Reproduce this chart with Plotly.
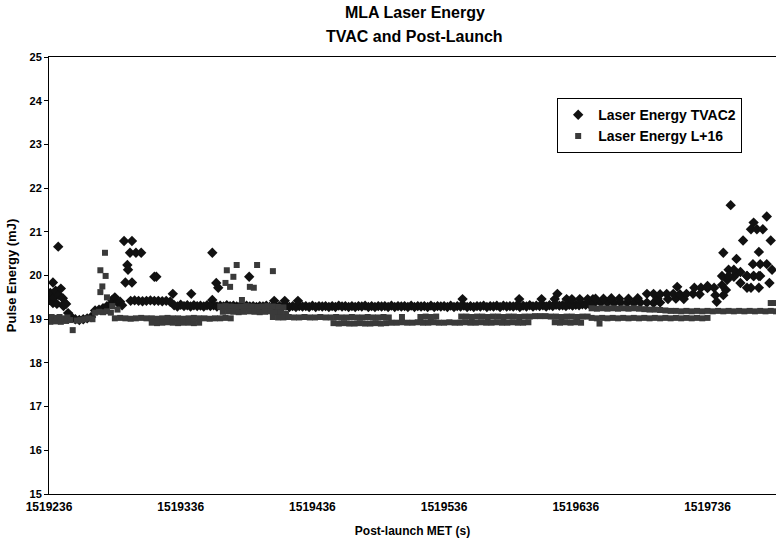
import plotly.graph_objects as go

MET0 = 1519236  # first MET shown on the axis (s)

# ---- tick labels ----
x_tick_vals = [1519236, 1519336, 1519436, 1519536, 1519636, 1519736]
x_tick_text = ["1519236", "1519336", "1519436", "1519536", "1519636", "1519736"]
y_tick_vals = [15, 16, 17, 18, 19, 20, 21, 22, 23, 24, 25]

# ---- Laser Energy TVAC2 : (seconds after MET0, pulse energy mJ) ----
tvac2_early = [(1, 19.60), (2, 19.45), (3, 19.84), (3, 19.37), (4, 19.50), (5, 19.65), (6, 19.35),
               (7, 20.66), (7.5, 19.55), (9, 19.70), (10.5, 19.48), (11, 19.30), (12, 19.37), (13, 19.35),
               (14.5, 19.14), (17, 19.05), (20, 19.00), (23, 18.98), (26, 19.00), (29, 19.02), (32, 19.05),
               (35, 19.20), (38, 19.22), (41, 19.25), (44, 19.30), (47, 19.35), (48, 19.44), (50, 19.50),
               (52, 19.38), (54, 19.40), (55.5, 19.32)]
tvac2_bursts = [(57, 20.79), (63, 20.79), (61.5, 20.52), (66, 20.52), (70, 20.52), (59.5, 20.24),
                (60, 20.13), (58, 19.84), (63, 19.84), (80, 19.97), (81.5, 19.97), (94, 19.58),
                (108, 19.58), (124, 20.52), (124, 19.44), (127, 19.83), (128.5, 19.72), (152, 19.97)]
tvac2_band_a = [(62, 19.42), (65, 19.43), (68, 19.42), (71, 19.41), (74, 19.42), (77, 19.43),
                (80, 19.42), (83, 19.42), (86, 19.41), (89, 19.42), (92, 19.40)]
tvac2_band_b = [(95, 19.32), (100, 19.33), (105, 19.32), (110, 19.32), (115, 19.31), (120, 19.32),
                (125, 19.32), (130, 19.31), (135, 19.32), (140, 19.31), (145, 19.30), (150, 19.31),
                (155, 19.30), (160, 19.30), (165, 19.31), (170, 19.30), (175, 19.30), (180, 19.31),
                (185, 19.30), (190, 19.30), (195, 19.30), (200, 19.31), (205, 19.30), (210, 19.30),
                (215, 19.30), (220, 19.31), (225, 19.30), (230, 19.30), (235, 19.30), (240, 19.31),
                (245, 19.30), (250, 19.30), (255, 19.30), (260, 19.31), (265, 19.30), (270, 19.30),
                (275, 19.31), (280, 19.30), (285, 19.30), (290, 19.31), (295, 19.30), (300, 19.30),
                (305, 19.31), (310, 19.30), (315, 19.31), (320, 19.30), (325, 19.30), (330, 19.31),
                (335, 19.30), (340, 19.31), (345, 19.31), (350, 19.30), (355, 19.31), (360, 19.31),
                (365, 19.32), (370, 19.31), (375, 19.32), (380, 19.32), (385, 19.33), (390, 19.32),
                (395, 19.33), (400, 19.33), (405, 19.34), (410, 19.35)]
tvac2_band_b2 = [(97.5, 19.29), (102.5, 19.30), (107.5, 19.29), (112.5, 19.30), (117.5, 19.29),
                 (122.5, 19.30), (127.5, 19.29), (132.5, 19.29), (137.5, 19.30), (142.5, 19.29),
                 (147.5, 19.28), (152.5, 19.29), (157.5, 19.28), (162.5, 19.29), (167.5, 19.28),
                 (172.5, 19.28), (177.5, 19.29), (182.5, 19.28), (187.5, 19.28), (192.5, 19.29),
                 (197.5, 19.28), (202.5, 19.28), (207.5, 19.29), (212.5, 19.28), (217.5, 19.28),
                 (222.5, 19.29), (227.5, 19.28), (232.5, 19.28), (237.5, 19.29), (242.5, 19.28),
                 (247.5, 19.28), (252.5, 19.29), (257.5, 19.28), (262.5, 19.28), (267.5, 19.29),
                 (272.5, 19.28), (277.5, 19.28), (282.5, 19.29), (287.5, 19.28), (292.5, 19.28),
                 (297.5, 19.29), (302.5, 19.28), (307.5, 19.28), (312.5, 19.29), (317.5, 19.28),
                 (322.5, 19.28), (327.5, 19.29), (332.5, 19.28), (337.5, 19.29), (342.5, 19.28),
                 (347.5, 19.29), (352.5, 19.29), (357.5, 19.28), (362.5, 19.29), (367.5, 19.29),
                 (372.5, 19.30), (377.5, 19.29), (382.5, 19.30), (387.5, 19.31), (392.5, 19.30),
                 (397.5, 19.31), (402.5, 19.32), (407.5, 19.33)]
tvac2_bumps = [(171, 19.42), (179, 19.42), (189, 19.42), (314, 19.46), (357, 19.46), (374, 19.46),
               (384, 19.46), (386, 19.58), (393, 19.46), (397, 19.46), (403, 19.46), (409, 19.46),
               (413, 19.46)]
tvac2_late = [(414, 19.37), (419, 19.38), (424, 19.38), (429, 19.37), (434, 19.38), (439, 19.38),
              (444, 19.37), (449, 19.38), (454, 19.38), (459, 19.37), (464, 19.38),
              (415, 19.47), (421, 19.47), (427, 19.48), (433, 19.47), (440, 19.47), (447, 19.48),
              (462, 19.47), (470, 19.46), (476, 19.47), (482, 19.46),
              (454, 19.58), (459, 19.58), (464, 19.57), (469, 19.58), (474, 19.58), (479, 19.57),
              (484, 19.58), (489, 19.58), (494, 19.57),
              (477, 19.74), (490, 19.72), (495, 19.72), (500, 19.71), (505, 19.72)]
tvac2_cluster = [(500, 19.76), (506, 19.55), (512, 19.55), (507, 19.40), (514, 19.67), (511, 19.78),
                 (515, 19.90), (520, 19.97), (522, 20.05), (525, 20.08), (530, 19.99), (535, 19.99),
                 (540, 19.99), (525, 19.83), (530, 19.72), (533, 19.72), (539, 19.72), (547, 19.83),
                 (517.6, 21.61), (545, 21.35), (535, 21.21), (533, 21.06), (537.5, 21.06), (542, 21.06),
                 (527, 20.80), (548, 20.80), (512, 20.52), (539, 20.54), (522, 20.38), (534.5, 20.26),
                 (540, 20.26), (545, 20.26), (511, 19.99), (516, 20.13), (520, 20.13), (516, 19.99),
                 (530, 19.99), (535, 19.99), (539, 19.99), (549, 20.13)]

# ---- Laser Energy L+16 : (seconds after MET0, pulse energy mJ) ----
l16_early = [(0, 19.02), (1, 18.94), (2, 19.05), (4, 19.00), (5, 18.95), (6, 19.03), (8, 19.05),
             (9, 18.94), (10, 19.00), (12, 19.02), (13, 18.96), (14, 19.04), (16, 18.98), (18, 18.75),
             (21, 18.97), (24, 18.98), (27, 19.00), (30, 19.02), (33, 19.00), (35, 19.15), (38, 19.17),
             (41, 19.16), (44, 19.18), (47, 19.15)]
l16_bursts = [(42.5, 20.52), (39, 20.12), (43, 19.99), (40.5, 19.75), (39, 19.62), (44, 19.50),
              (48, 19.30), (52, 19.22), (134, 19.83), (135, 20.12), (137.5, 19.74), (140, 19.97),
              (142.5, 20.24), (146.5, 19.44), (152.5, 19.74), (155.5, 19.72), (158, 20.24), (170, 20.10)]
l16_band_a = [(50, 19.02), (54, 19.03), (58, 19.02), (62, 19.01), (66, 19.02), (70, 19.03), (74, 19.02),
              (78, 19.02), (82, 19.01), (86, 19.02), (90, 19.03), (94, 19.02), (98, 19.02), (102, 19.01),
              (106, 19.02), (110, 19.03), (114, 19.02), (118, 19.02), (122, 19.01), (126, 19.02),
              (130, 19.02), (134, 19.03), (138, 19.02),
              (78, 18.92), (82, 18.91), (86, 18.92), (90, 18.93), (94, 18.92), (98, 18.91), (102, 18.92),
              (106, 18.92), (110, 18.91), (114, 18.92)]
l16_band_b = [(130, 19.29), (134, 19.30), (138, 19.29), (142, 19.28), (146, 19.29), (150, 19.30),
              (154, 19.29), (158, 19.28), (162, 19.29), (166, 19.30), (170, 19.29), (174, 19.28),
              (178, 19.27),
              (132, 19.17), (136, 19.18), (140, 19.17), (144, 19.16), (148, 19.17), (152, 19.18),
              (156, 19.17), (160, 19.16), (164, 19.17), (168, 19.18), (172, 19.16), (176, 19.15),
              (180, 19.12)]
l16_band_c = [(170, 19.05), (174, 19.04), (178, 19.04), (182, 19.05), (186, 19.04), (190, 19.04),
              (194, 19.05), (198, 19.04), (202, 19.04), (206, 19.05), (210, 19.04), (214, 19.04),
              (218, 19.05), (222, 19.04), (226, 19.04), (230, 19.05), (234, 19.04), (238, 19.04),
              (242, 19.05), (246, 19.04), (250, 19.04), (254, 19.05), (258, 19.04), (268, 19.05),
              (282, 19.05), (286, 19.06), (290, 19.05), (294, 19.06),
              (313, 19.06), (317, 19.06), (321, 19.05), (325, 19.06), (329, 19.06), (333, 19.05),
              (337, 19.06), (341, 19.06), (345, 19.05), (349, 19.06), (353, 19.06), (357, 19.05),
              (361, 19.06), (365, 19.06), (369, 19.07), (373, 19.07), (377, 19.07), (381, 19.06),
              (385, 19.06), (389, 19.05), (393, 19.06), (397, 19.06), (401, 19.05), (405, 19.06),
              (409, 19.06)]
l16_band_c_low = [(216, 18.91), (220, 18.90), (224, 18.91), (228, 18.90), (232, 18.90), (236, 18.91),
                  (240, 18.90), (244, 18.90), (248, 18.91), (252, 18.90), (256, 18.91), (260, 18.92),
                  (264, 18.92), (268, 18.93), (272, 18.92), (276, 18.92), (280, 18.93), (284, 18.92),
                  (288, 18.92), (292, 18.93), (296, 18.92), (300, 18.92), (304, 18.93), (308, 18.92),
                  (312, 18.92), (316, 18.93), (320, 18.92), (324, 18.92), (328, 18.93), (332, 18.92),
                  (336, 18.92), (340, 18.93), (344, 18.92), (348, 18.92), (352, 18.93), (356, 18.92),
                  (360, 18.92), (364, 18.93), (384, 18.93), (388, 18.92), (392, 18.93), (396, 18.92),
                  (400, 18.93), (404, 18.92)]
l16_late = [(412, 19.25), (416, 19.24), (420, 19.25), (424, 19.24), (428, 19.25), (432, 19.24),
            (436, 19.25), (440, 19.24), (444, 19.25), (448, 19.24), (452, 19.23), (456, 19.22),
            (460, 19.22), (464, 19.21), (468, 19.20), (472, 19.19), (476, 19.19), (480, 19.18),
            (484, 19.19), (488, 19.18), (492, 19.19), (496, 19.18), (500, 19.19), (504, 19.18),
            (508, 19.19), (512, 19.18), (516, 19.19), (520, 19.18), (524, 19.19), (528, 19.18),
            (532, 19.19), (536, 19.18), (540, 19.19), (544, 19.18), (548, 19.19), (552, 19.18),
            (412, 19.03), (416, 19.02), (418, 18.90), (420, 19.03), (424, 19.02), (428, 19.03),
            (432, 19.02), (436, 19.03), (440, 19.02), (444, 19.03), (448, 19.02), (452, 19.03),
            (456, 19.02), (460, 19.03), (464, 19.02), (468, 19.03), (472, 19.02), (476, 19.03),
            (480, 19.02), (484, 19.03), (488, 19.02), (492, 19.03), (496, 19.02), (500, 19.03),
            (548, 19.37), (551, 19.37)]

tvac2 = (tvac2_early + tvac2_bursts + tvac2_band_a + tvac2_band_b + tvac2_band_b2
         + tvac2_bumps + tvac2_late + tvac2_cluster)
l16 = l16_early + l16_bursts + l16_band_a + l16_band_b + l16_band_c + l16_band_c_low + l16_late

FONT = "Liberation Sans, Arial, sans-serif"
BOLD = lambda size: dict(family=FONT, size=size, weight="bold", color="black")

fig = go.Figure()
fig.add_trace(go.Scatter(
    x=[MET0 + d for d, _ in tvac2], y=[v for _, v in tvac2],
    mode="markers", name="Laser Energy TVAC2",
    marker=dict(symbol="diamond", size=8, color="#111111", line=dict(width=0))))
fig.add_trace(go.Scatter(
    x=[MET0 + d for d, _ in l16], y=[v for _, v in l16],
    mode="markers", name="Laser Energy L+16",
    marker=dict(symbol="square", size=6, color="#3a3a3a", line=dict(width=0))))

fig.update_layout(
    width=776, height=539,
    margin=dict(l=49, r=0, t=57, b=45),
    paper_bgcolor="white", plot_bgcolor="white",
    font=dict(family=FONT, color="black"),
    annotations=[
        dict(text="MLA Laser Energy", xref="paper", yref="paper", x=0.5034, y=1.1007,
             xanchor="center", yanchor="middle", showarrow=False, font=BOLD(16)),
        dict(text="TVAC and Post-Launch", xref="paper", yref="paper", x=0.5034, y=1.0458,
             xanchor="center", yanchor="middle", showarrow=False, font=BOLD(16)),
    ],
    showlegend=True,
    legend=dict(x=0.699, y=0.906, xanchor="left", yanchor="top",
                bgcolor="white", bordercolor="black", borderwidth=1,
                font=BOLD(14), tracegroupgap=0),
    xaxis=dict(range=[1519236, 1519788], tickvals=x_tick_vals, ticktext=x_tick_text,
               ticks="", showline=True, linecolor="black", linewidth=1, mirror=True,
               showgrid=False, zeroline=False, ticklabelstandoff=2,
               tickfont=BOLD(12),
               title=dict(text="Post-launch MET (s)", standoff=13, font=BOLD(12))),
    yaxis=dict(range=[15, 25], tickvals=y_tick_vals, ticks="outside", ticklen=4,
               tickcolor="black", showline=True, linecolor="black", linewidth=1,
               showgrid=False, zeroline=False,
               tickfont=BOLD(11),
               title=dict(text="Pulse Energy (mJ)", standoff=9, font=BOLD(13))),
)

fig.write_html("out.html", config={"displayModeBar": False},
               post_script="document.body.style.margin='0px';document.body.style.overflow='hidden';")
